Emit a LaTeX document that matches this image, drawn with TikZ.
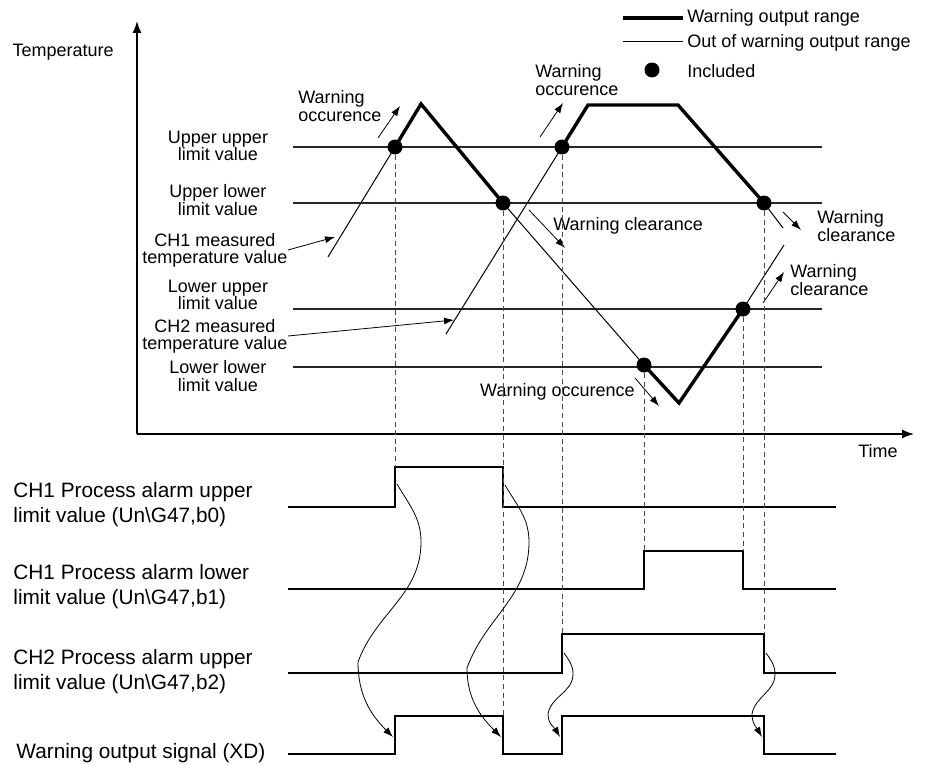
\documentclass[tikz,border=0pt]{standalone}
\usepackage{fontspec}
\setmainfont{Liberation Sans}
\usetikzlibrary{arrows.meta}

\begin{document}
\begin{tikzpicture}[
        x=0.5pt, y=-0.5pt,
        font=\fontsize{9}{8.6}\selectfont,
        axis/.style={-{Latex[length=6pt, width=4.5pt]}, line width=0.7pt},
        inrange/.style={line width=1.7pt, line join=miter},
        outrange/.style={line width=0.5pt},
        limitline/.style={line width=0.55pt, black!85},
        signal/.style={line width=1pt, line join=miter},
        guide/.style={dash pattern=on 2.5pt off 1.8pt, line width=0.45pt, black!70},
        pointer/.style={-{Latex[length=5pt, width=3.5pt]}, line width=0.4pt},
        cause/.style={-{Latex[length=5pt, width=3.5pt]}, line width=0.4pt},
        hit/.style={circle, fill, inner sep=0pt, minimum size=7.5pt},
        lbl/.style={align=center, inner sep=0pt},
        note/.style={align=left, inner sep=0pt},
        siglbl/.style={align=left, inner sep=0pt, font=\fontsize{10.4}{12.5}\selectfont}
    ]
        \useasboundingbox (0,0) rectangle (926,765);

        % --- Edge times and signal levels ---
        \def\tA{395} \def\tB{503} \def\tC{562}
        \def\tD{644} \def\tE{743} \def\tF{764}
        \def\xs{288} \def\xe{836}

        % --- Axes ---
        \coordinate (O) at (137,434);
        \coordinate (Ytop) at (137,21);
        \coordinate (Xend) at (914,434);
        \draw[axis] (O) -- (Ytop);
        \draw[axis] (O) -- (Xend);
        \node[anchor=east, inner sep=0pt] (temp) at (114,52) {Temperature};
        \node[inner sep=0pt] (time) at (878,451) {Time};

        % --- Limit values ---
        \foreach \yy/\nm in {147/uu, 203/ul, 309/lu, 367/ll}
            \draw[limitline] (293,\yy) coordinate (\nm a) -- (822,\yy) coordinate (\nm b);
        \node[lbl] (uulbl) at (218,146) {Upper upper\\limit value};
        \node[lbl] (ullbl) at (218,200) {Upper lower\\limit value};
        \node[lbl] (ch1lbl) at (215,250) {CH1 measured\\temperature value};
        \node[lbl] (lulbl) at (218,295) {Lower upper\\limit value};
        \node[lbl] (ch2lbl) at (215,336) {CH2 measured\\temperature value};
        \node[lbl] (lllbl) at (218,376) {Lower lower\\limit value};

        % --- CH1 measured temperature ---
        \draw[outrange] (328,257) coordinate (c1s) -- (\tA,147);
        \draw[inrange] (\tA,147) -- (421,104) -- (\tB,203);
        \draw[outrange] (\tB,203) -- (\tD,365);
        \draw[inrange] (\tD,365) -- (679,403) -- (\tE,309);
        \draw[outrange] (\tE,309) -- (784,245);

        % --- CH2 measured temperature ---
        \draw[outrange] (446,334) coordinate (c2s) -- (\tC,147);
        \draw[inrange] (\tC,147) -- (588,105) -- (678,105) -- (\tF,203);
        \draw[outrange] (\tF,203) -- (783,228);

        \coordinate (c1p) at (335,237);
        \coordinate (c2p) at (454,320);
        \draw[pointer] (ch1lbl.east) -- (c1p);
        \draw[pointer] (ch2lbl.east) -- (c2p);

        % --- Included points ---
        \node[hit] (pA) at (\tA,147) {};
        \node[hit] (pB) at (\tB,203) {};
        \node[hit] (pC) at (\tC,147) {};
        \node[hit] (pD) at (\tD,365) {};
        \node[hit] (pE) at (\tE,309) {};
        \node[hit] (pF) at (\tF,203) {};

        % --- Warning occurence / clearance ---
        \node[note, anchor=west] (wo1) at (298,106) {Warning\\occurence};
        \draw[pointer] (378,138) -- (400,106);
        \node[note, anchor=west] (wo2) at (535,80) {Warning\\occurence};
        \draw[pointer] (540,137) -- (563,103);
        \node[note, anchor=west] (wc1) at (553,226) {Warning clearance};
        \draw[pointer] (529,210) -- (565,248);
        \node[note, anchor=west] (wc2) at (817,226) {Warning\\clearance};
        \draw[pointer] (783,212) -- (801,230);
        \node[note, anchor=west] (wc3) at (790,280) {Warning\\clearance};
        \draw[pointer] (763,303) -- (784,272);
        \node[note, anchor=east] (wo3) at (635,392) {Warning occurence};
        \draw[pointer] (635,378) -- (659,406);

        % --- Legend ---
        \draw[inrange] (623,18) -- (683,18);
        \draw[outrange] (623,42) -- (683,42);
        \node[hit] (legdot) at (652,70) {};
        \node[note, anchor=west] (leg1) at (687,18) {Warning output range};
        \node[note, anchor=west] (leg2) at (687,43) {Out of warning output range};
        \node[note, anchor=west] (leg3) at (687,71) {Included};

        % --- Timing signals ---
        \node[siglbl, anchor=west] (b0lbl) at (13,505) {CH1 Process alarm upper\\limit value (Un\textbackslash G47,b0)};
        \node[siglbl, anchor=west] (b1lbl) at (13,587) {CH1 Process alarm lower\\limit value (Un\textbackslash G47,b1)};
        \node[siglbl, anchor=west] (b2lbl) at (13,672) {CH2 Process alarm upper\\limit value (Un\textbackslash G47,b2)};
        \node[siglbl, anchor=west] (xdlbl) at (16,753) {Warning output signal (XD)};

        \draw[signal] (\xs,507) -- (\tA,507) -- (\tA,467) -- (\tB,467) -- (\tB,507) -- (\xe,507);
        \draw[signal] (\xs,589) -- (\tD,589) -- (\tD,551) -- (\tE,551) -- (\tE,589) -- (\xe,589);
        \draw[signal] (\xs,673) -- (\tC,673) -- (\tC,634) -- (\tF,634) -- (\tF,673) -- (\xe,673);
        \draw[signal] (\xs,754) -- (\tA,754) -- (\tA,716) -- (\tB,716) -- (\tB,754) -- (\tC,754)
            -- (\tC,716) -- (\tF,716) -- (\tF,754) -- (\xe,754);

        % --- Guide lines ---
        \draw[guide] (pA) -- (\tA,467);
        \draw[guide] (pB) -- (\tB,716);
        \draw[guide] (pC) -- (\tC,634);
        \draw[guide] (pD) -- (\tD,551);
        \draw[guide] (pE) -- (\tE,551);
        \draw[guide] (pF) -- (\tF,634);

        % --- Cause and effect ---
        \coordinate (k1s) at (397,484); \coordinate (k1e) at (393,737);
        \coordinate (k2s) at (505,485); \coordinate (k2e) at (501,737);
        \coordinate (k3s) at (564,653); \coordinate (k3e) at (560,737);
        \coordinate (k4s) at (766,653); \coordinate (k4e) at (762,737);
        \draw[cause] (k1s) to[out=-60, in=90] (421,542) to[out=-90, in=70] (358,662) to[out=-90, in=135] (k1e);
        \draw[cause] (k2s) to[out=-60, in=90] (529,542) to[out=-90, in=70] (467,668) to[out=-90, in=135] (k2e);
        \draw[cause] (k3s) to[out=-55, in=90] (573,674) to[out=-90, in=80] (548,714) to[out=-90, in=120] (k3e);
        \draw[cause] (k4s) to[out=-55, in=90] (775,674) to[out=-90, in=80] (752,714) to[out=-90, in=120] (k4e);
    \end{tikzpicture}
\end{document}
